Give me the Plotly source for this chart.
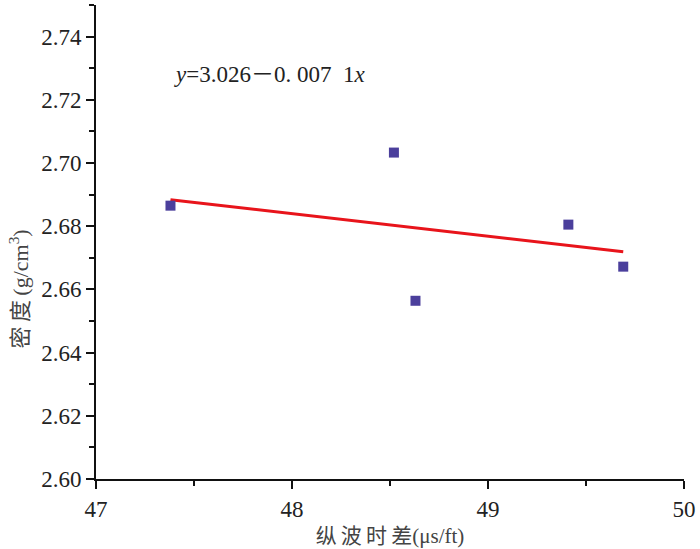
import plotly.graph_objects as go

# 数据
dt = [47.38, 48.52, 48.63, 49.41, 49.69]
rho = [2.6865, 2.7033, 2.6564, 2.6805, 2.6672]

# 拟合线端点
fit_x = [47.38, 49.69]
fit_y = [2.6884, 2.6719]

x_ticks = [47, 48, 49, 50]
y_ticks = [2.60, 2.62, 2.64, 2.66, 2.68, 2.70, 2.72, 2.74]

serif = "Times New Roman"
font_fam = "Times New Roman, Noto Sans CJK SC"
sp = "\u2009"

fig = go.Figure()
fig.add_trace(go.Scatter(x=fit_x, y=fit_y, mode="lines",
                         line=dict(color="#e8141b", width=3), showlegend=False))
fig.add_trace(go.Scatter(x=dt, y=rho, mode="markers",
                         marker=dict(symbol="square", size=10, color="#4b3f9c"),
                         showlegend=False))

fig.add_annotation(x=0.13, y=0.885, xref="paper", yref="paper",
                   text="<i>y</i>=3.026－0.\u00a0007\u00a0\u00a01<i>x</i>",
                   showarrow=False, xanchor="left",
                   font=dict(family=font_fam, size=23, color="#222"))
fig.add_annotation(x=-0.158, y=0.4, xref="paper", yref="paper",
                   text=sp.join("密度") + sp + "(g/cm<sup>3</sup>)", textangle=-90,
                   showarrow=False,
                   font=dict(family=font_fam, size=22, color="#444"))

fig.update_xaxes(range=[47, 50], tickvals=x_ticks, showgrid=False, zeroline=False,
                 showline=True, linecolor="#111", linewidth=2,
                 ticks="outside", ticklen=8, tickwidth=2, tickcolor="#111",
                 minor=dict(dtick=0.5, ticks="outside", ticklen=5, tickwidth=2, tickcolor="#111"),
                 tickfont=dict(family=serif, size=23, color="#222"),
                 title=dict(text=sp.join("纵波时差") + "(μs/ft)", standoff=8,
                            font=dict(family=font_fam, size=21, color="#444")))
fig.update_yaxes(range=[2.60, 2.75], tickvals=y_ticks, tickformat=".2f",
                 showgrid=False, zeroline=False,
                 showline=True, linecolor="#111", linewidth=2,
                 ticks="outside", ticklen=8, tickwidth=2, tickcolor="#111",
                 minor=dict(dtick=0.01, ticks="outside", ticklen=5, tickwidth=2, tickcolor="#111"),
                 tickfont=dict(family=serif, size=23, color="#222"))

fig.update_layout(width=700, height=549, plot_bgcolor="white", paper_bgcolor="white",
                  font=dict(family=font_fam),
                  margin=dict(l=96, r=16, t=5, b=70))

fig.write_html("out.html", config={"displayModeBar": False},
               post_script="document.body.style.margin='0';")
